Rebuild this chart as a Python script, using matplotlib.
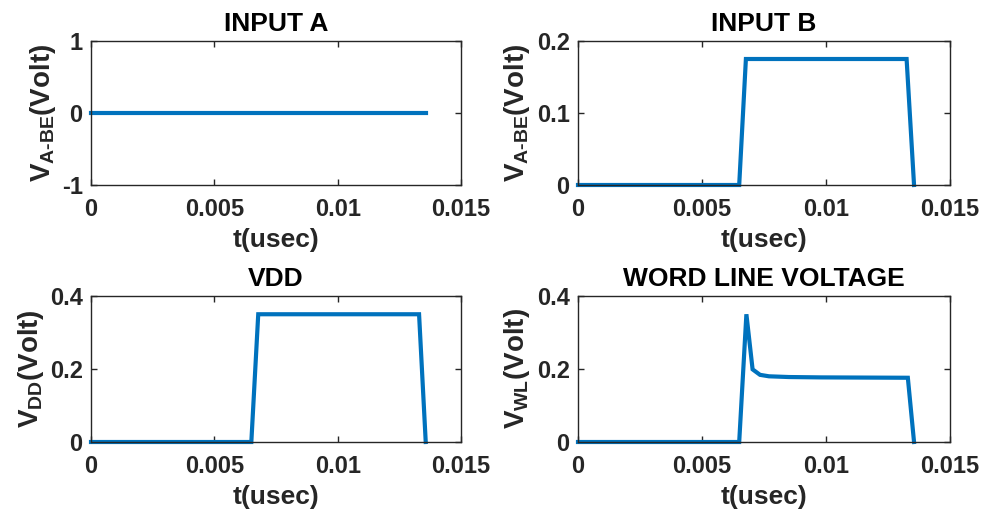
import matplotlib
matplotlib.use("Agg")
import matplotlib.pyplot as plt

plt.rcParams["font.family"] = ["Liberation Sans", "DejaVu Sans"]
plt.rcParams["font.weight"] = "bold"
plt.rcParams["mathtext.fontset"] = "custom"
plt.rcParams["mathtext.rm"] = "Liberation Sans:bold"
plt.rcParams["mathtext.it"] = "Liberation Sans:bold"
plt.rcParams["mathtext.bf"] = "Liberation Sans:bold"

# Time base (usec) and signal levels (Volt)
t_a = [0.0, 0.01357]
v_a = [0.0, 0.0]

t_b = [0.0, 0.0065, 0.00677, 0.01325, 0.01355]
v_b = [0.0, 0.0, 0.175, 0.175, 0.0]

t_vdd = [0.0, 0.0065, 0.00678, 0.0133, 0.01357]
v_vdd = [0.0, 0.0, 0.35, 0.35, 0.0]

t_wl = [0.0, 0.0065, 0.00679, 0.00704, 0.00734, 0.0077, 0.0085, 0.0098, 0.0133, 0.01355]
v_wl = [0.0, 0.0, 0.35, 0.199, 0.184, 0.180, 0.178, 0.177, 0.176, 0.0]

x_ticks = [0, 0.005, 0.01, 0.015]
x_tick_labels = ["0", "0.005", "0.01", "0.015"]

panels = [
    dict(title="INPUT A", t=t_a, v=v_a, ylim=(-1, 1), yticks=[-1, 0, 1],
         ylabels=["-1", "0", "1"], ylabel=r"$V_{A\text{-}BE}$(Volt)",
         rect=[91, 41, 461, 185]),
    dict(title="INPUT B", t=t_b, v=v_b, ylim=(0, 0.2), yticks=[0, 0.1, 0.2],
         ylabels=["0", "0.1", "0.2"], ylabel=r"$V_{A\text{-}BE}$(Volt)",
         rect=[578, 41, 950, 185]),
    dict(title="VDD", t=t_vdd, v=v_vdd, ylim=(0, 0.4), yticks=[0, 0.2, 0.4],
         ylabels=["0", "0.2", "0.4"], ylabel=r"$V_{DD}$(Volt)",
         rect=[91, 296, 461, 442]),
    dict(title="WORD LINE VOLTAGE", t=t_wl, v=v_wl, ylim=(0, 0.4), yticks=[0, 0.2, 0.4],
         ylabels=["0", "0.2", "0.4"], ylabel=r"$V_{WL}$(Volt)",
         rect=[578, 296, 950, 442]),
]

W, H = 982, 513
fig = plt.figure(figsize=(W / 100, H / 100), dpi=100)
dark = "#262626"
line_color = "#0072BD"

for p in panels:
    x0, y0, x1, y1 = p["rect"]
    ax = fig.add_axes([x0 / W, (H - y1) / H, (x1 - x0) / W, (y1 - y0) / H])
    ax.plot(p["t"], p["v"], color=line_color, lw=3.0, clip_on=False,
            solid_joinstyle="miter")
    ax.set_xlim(0, 0.015)
    ax.set_ylim(*p["ylim"])
    ax.set_xticks(x_ticks)
    ax.set_xticklabels(x_tick_labels)
    ax.set_yticks(p["yticks"])
    ax.set_yticklabels(p["ylabels"])
    ax.tick_params(direction="in", top=True, right=True, length=4, width=1,
                   colors=dark, labelsize=17)
    ax.tick_params(axis="x", pad=9.5)
    ax.tick_params(axis="y", pad=6)
    for s in ax.spines.values():
        s.set_color(dark)
        s.set_linewidth(1.0)
    ax.set_title(p["title"], fontsize=19, fontweight="bold", color="black", pad=7)
    ax.set_xlabel("t(usec)", fontsize=19, fontweight="bold", color=dark, labelpad=5)
    ax.set_ylabel(p["ylabel"], fontsize=20, fontweight="bold", color=dark, labelpad=3)

fig.savefig("out.png", dpi=100)
